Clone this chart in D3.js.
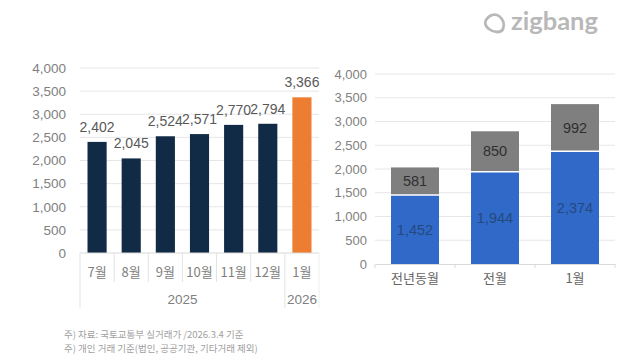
<!DOCTYPE html>
<html><head><meta charset="utf-8">
<script src="https://cdn.jsdelivr.net/npm/d3@7"></script>
<style>
html,body{margin:0;padding:0;background:#fff;}
svg{display:block;font-family:"Noto Sans CJK KR","Noto Sans",sans-serif;}
</style></head>
<body>
<svg id="c" width="640" height="360"></svg>
<script>
// Left chart data
const months = ["7월","8월","9월","10월","11월","12월","1월"];
const monthYears = ["2025","2025","2025","2025","2025","2025","2026"];
const monthlyValues = [2402,2045,2524,2571,2770,2794,3366];
const yearGroups = ["2025","2026"];
// Right chart data
const compareCats = ["전년동월","전월","1월"];
const lowerSeries = [1452,1944,2374];
const upperSeries = [581,850,992];
const yTicks = [0,500,1000,1500,2000,2500,3000,3500,4000];
const notes = ["주) 자료: 국토교통부 실거래가 /2026.3.4 기준","주) 개인 거래 기준(법인, 공공기관, 기타거래 제외)"];

const svg = d3.select("#c");
const fmt = d3.format(",");
const gridC = "#e6e6e6", tickTxt = "#808080";
const numFont = "Liberation Sans, Arial, sans-serif";

// ---------- Left chart ----------
const L = {x0:80, x1:319, yTop:68, yBot:253};
const xL = d3.scaleBand().domain(months.map((m,i)=>i)).range([L.x0,L.x1]).paddingInner(0.44).paddingOuter(0.22);
const yL = d3.scaleLinear().domain([0,4000]).range([L.yBot,L.yTop]);
const gL = svg.append("g");
gL.append("g").selectAll("line").data(yTicks.slice(1)).join("line")
  .attr("x1",L.x0).attr("x2",L.x1).attr("y1",d=>yL(d)).attr("y2",d=>yL(d))
  .attr("stroke",gridC).attr("stroke-width",1);
const axL = gL.append("g").attr("transform",`translate(${L.x0},0)`)
  .call(d3.axisLeft(yL).tickValues(yTicks).tickFormat(fmt).tickSize(0).tickPadding(14));
axL.select(".domain").remove();
axL.selectAll("text").attr("fill",tickTxt).attr("font-size",13.5).attr("font-family",numFont);
gL.selectAll("rect.bar").data(monthlyValues).join("rect").attr("class","bar")
  .attr("x",(d,i)=>xL(i)).attr("width",xL.bandwidth())
  .attr("y",d=>yL(d)).attr("height",d=>yL(0)-yL(d))
  .attr("fill",(d,i)=>monthYears[i]==="2026"?"#ed7d31":"#112a46");
gL.selectAll("text.val").data(monthlyValues).join("text").attr("class","val")
  .attr("x",(d,i)=>xL(i)+xL.bandwidth()/2).attr("y",d=>yL(d)-10)
  .attr("text-anchor","middle").attr("fill","#595959").attr("font-size",14)
  .attr("font-family",numFont).text(d=>fmt(d));
// baseline
gL.append("line").attr("x1",L.x0).attr("x2",L.x1).attr("y1",L.yBot).attr("y2",L.yBot).attr("stroke","#d9d9d9");
// category separators
months.forEach((m,i)=>{
  const xs = L.x0 + (L.x1-L.x0)*i/months.length;
  const full = i===0 || monthYears[i]!==monthYears[i-1];
  gL.append("line").attr("x1",xs).attr("x2",xs).attr("y1",L.yBot).attr("y2",full?308:282)
    .attr("stroke","#e3e3e3");
});
gL.append("line").attr("x1",L.x1).attr("x2",L.x1).attr("y1",L.yBot).attr("y2",308).attr("stroke","#eeeeee");
gL.selectAll("text.cat").data(months).join("text").attr("class","cat")
  .attr("x",(d,i)=>xL(i)+xL.bandwidth()/2).attr("y",277)
  .attr("text-anchor","middle").attr("fill",tickTxt).attr("font-size",13).text(d=>d);
yearGroups.forEach(y=>{
  const idx = monthYears.map((v,i)=>v===y?i:-1).filter(i=>i>=0);
  const a = xL(idx[0]), b = xL(idx[idx.length-1])+xL.bandwidth();
  gL.append("text").attr("x",(a+b)/2).attr("y",304).attr("text-anchor","middle")
    .attr("fill",tickTxt).attr("font-size",13.5).attr("font-family",numFont).text(y);
});

// ---------- Right chart ----------
const R = {x0:375, x1:615, yTop:74, yBot:264};
const xR = d3.scaleBand().domain(compareCats).range([R.x0,R.x1]).paddingInner(0.4).paddingOuter(0.2);
const yR = d3.scaleLinear().domain([0,4000]).range([R.yBot,R.yTop]);
const gR = svg.append("g");
gR.append("g").selectAll("line").data(yTicks.slice(1)).join("line")
  .attr("x1",R.x0).attr("x2",R.x1).attr("y1",d=>yR(d)).attr("y2",d=>yR(d))
  .attr("stroke",gridC);
const axR = gR.append("g").attr("transform",`translate(${R.x0},0)`)
  .call(d3.axisLeft(yR).tickValues(yTicks).tickFormat(fmt).tickSize(0).tickPadding(8));
axR.select(".domain").remove();
axR.selectAll("text").attr("fill",tickTxt).attr("font-size",13).attr("font-family",numFont);
const axRB = gR.append("g").attr("transform",`translate(0,${R.yBot})`)
  .call(d3.axisBottom(xR).tickSize(0).tickPadding(10));
axRB.select(".domain").attr("stroke","#d9d9d9");
axRB.selectAll("text").attr("fill","#666").attr("font-size",13).attr("font-family","Noto Sans CJK KR, sans-serif");
[0,1,2,3].forEach(i=>{
  const xs = R.x0 + (R.x1-R.x0)*i/3;
  gR.append("line").attr("x1",xs).attr("x2",xs).attr("y1",R.yBot).attr("y2",R.yBot+4).attr("stroke","#d9d9d9");
});
const stacked = compareCats.map((c,i)=>({c, lo:lowerSeries[i], hi:upperSeries[i]}));
gR.selectAll("rect.lo").data(stacked).join("rect").attr("class","lo")
  .attr("x",d=>xR(d.c)).attr("width",xR.bandwidth())
  .attr("y",d=>yR(d.lo)).attr("height",d=>yR(0)-yR(d.lo)).attr("fill","#3169c9");
gR.selectAll("rect.hi").data(stacked).join("rect").attr("class","hi")
  .attr("x",d=>xR(d.c)).attr("width",xR.bandwidth())
  .attr("y",d=>yR(d.lo+d.hi)).attr("height",d=>yR(d.lo)-yR(d.lo+d.hi)).attr("fill","#7f7f7f");
gR.selectAll("line.sep").data(stacked).join("line").attr("class","sep")
  .attr("x1",d=>xR(d.c)).attr("x2",d=>xR(d.c)+xR.bandwidth())
  .attr("y1",d=>yR(d.lo)).attr("y2",d=>yR(d.lo)).attr("stroke","#fff").attr("stroke-width",1.5);
gR.selectAll("text.lo").data(stacked).join("text").attr("class","lo")
  .attr("x",d=>xR(d.c)+xR.bandwidth()/2).attr("y",d=>yR(d.lo/2)+5)
  .attr("text-anchor","middle").attr("fill","#23497f").attr("font-size",14.5)
  .attr("font-family",numFont).text(d=>fmt(d.lo));
gR.selectAll("text.hi").data(stacked).join("text").attr("class","hi")
  .attr("x",d=>xR(d.c)+xR.bandwidth()/2).attr("y",d=>yR(d.lo+d.hi/2)+5)
  .attr("text-anchor","middle").attr("fill","#303030").attr("font-size",14.5)
  .attr("font-family",numFont).text(d=>fmt(d.hi));

// ---------- Notes ----------
svg.selectAll("text.note").data(notes).join("text").attr("class","note")
  .attr("x",64).attr("y",(d,i)=>338+i*14).attr("fill","#a0a0a0").attr("font-size",9.5).text(d=>d);

// ---------- Logo ----------
const logo = svg.append("g").attr("transform","translate(483,12)");
logo.append("path").attr("d","M3,8 C6,3 12,1 16,4 C20,7 22,12 20,17 C18,21 11,21 6,17 C3,15 1,11 3,8 Z")
  .attr("fill","none").attr("stroke","#b8b8b8").attr("stroke-width",2.8);
svg.append("text").attr("x",511).attr("y",30).attr("fill","#b8b8b8").attr("font-size",25.5)
  .attr("font-weight","bold").attr("font-family","Lato, Inter, sans-serif").text("zigbang");
</script>
</body></html>
